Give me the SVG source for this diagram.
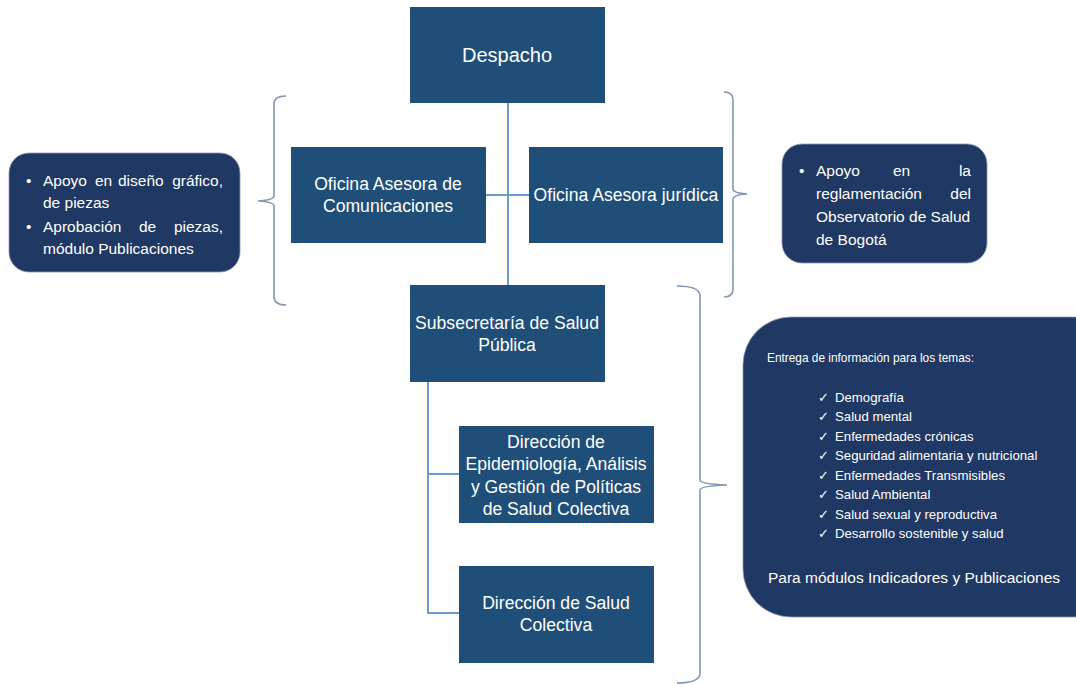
<svg xmlns="http://www.w3.org/2000/svg" width="1076" height="684" viewBox="0 0 1076 684">
<style>
.node{fill:#1F4E79;}
.call{fill:#1F3864;stroke:#8a9ab3;stroke-width:0.8;}
.t{font-family:"Liberation Sans",Arial,sans-serif;fill:#ffffff;}
.n18{font-size:17.6px;text-anchor:middle;}
.c15{font-size:15.5px;}
.c13{font-size:13.2px;}
.conn{stroke:#6C9BD2;stroke-width:2;fill:none;}
.brace{stroke:#8496B0;stroke-width:1.6;fill:none;}
</style>
<rect width="1076" height="684" fill="#ffffff"/>
<g id="connectors">
<line class="conn" x1="508" y1="103" x2="508" y2="285"/>
<line class="conn" x1="486" y1="195" x2="529" y2="195"/>
<polyline class="conn" points="428,382 428,613 459,613"/>
<line class="conn" x1="428" y1="474" x2="459" y2="474"/>
</g>
<g id="braces">
<path class="brace" d="M286,96 Q274,96 274,104 L274,196 Q274,200 258,201 Q274,202 274,206 L274,297 Q274,305 286,305"/>
<path class="brace" d="M724,92 Q733,92 733,100 L733,189 Q733,193 747,194 Q733,195 733,199 L733,289 Q733,297 724,297"/>
<path class="brace" d="M677,286 Q700,286 700,296 L700,480 Q700,484 727,485 Q700,486 700,490 L700,673 Q700,683 677,683"/>
</g>
<g id="despacho">
<rect class="node" x="410" y="7" width="195" height="96"/>
<text class="t" x="507" y="62" font-size="20" text-anchor="middle">Despacho</text>
</g>
<g id="oficina-comunicaciones">
<rect class="node" x="291" y="147" width="195" height="96"/>
<text class="t n18" x="388" y="190">Oficina Asesora de</text>
<text class="t n18" x="388" y="212">Comunicaciones</text>
</g>
<g id="oficina-juridica">
<rect class="node" x="529" y="147" width="194" height="96"/>
<text class="t n18" x="626" y="201">Oficina Asesora jurídica</text>
</g>
<g id="subsecretaria">
<rect class="node" x="410" y="285" width="195" height="97"/>
<text class="t n18" x="507" y="329">Subsecretaría de Salud</text>
<text class="t n18" x="507" y="351">Pública</text>
</g>
<g id="direccion-epidemiologia">
<rect class="node" x="459" y="426" width="195" height="97"/>
<text class="t n18" x="556" y="448">Dirección de</text>
<text class="t n18" x="556" y="470">Epidemiología, Análisis</text>
<text class="t n18" x="556" y="493">y Gestión de Políticas</text>
<text class="t n18" x="556" y="515">de Salud Colectiva</text>
</g>
<g id="direccion-salud-colectiva">
<rect class="node" x="459" y="566" width="195" height="97"/>
<text class="t n18" x="556" y="609">Dirección de Salud</text>
<text class="t n18" x="556" y="631">Colectiva</text>
</g>
<g id="callout-comunicaciones">
<rect class="call" x="9" y="153" width="231" height="119" rx="20"/>
<text class="t c15" x="26" y="186">•</text>
<text class="t c15" y="186"><tspan x="43">Apoyo</tspan><tspan x="95">en</tspan><tspan x="118">diseño</tspan><tspan x="223" text-anchor="end">gráfico,</tspan></text>
<text class="t c15" x="43" y="208">de piezas</text>
<text class="t c15" x="26" y="232">•</text>
<text class="t c15" y="232"><tspan x="43">Aprobación</tspan><tspan x="139">de</tspan><tspan x="223" text-anchor="end">piezas,</tspan></text>
<text class="t c15" x="43" y="254">módulo Publicaciones</text>
</g>
<g id="callout-juridica">
<rect class="call" x="782" y="144" width="205" height="119" rx="20"/>
<text class="t c15" x="799" y="176">•</text>
<text class="t c15" y="176"><tspan x="816">Apoyo</tspan><tspan x="893">en</tspan><tspan x="971" text-anchor="end">la</tspan></text>
<text class="t c15" y="199"><tspan x="816">reglamentación</tspan><tspan x="971" text-anchor="end">del</tspan></text>
<text class="t c15" x="816" y="222">Observatorio de Salud</text>
<text class="t c15" x="816" y="245">de Bogotá</text>
</g>
<g id="callout-subsecretaria">
<rect class="call" x="743" y="317" width="380" height="300" rx="48"/>
<text class="t" x="767" y="362" font-size="13" textLength="207" lengthAdjust="spacingAndGlyphs">Entrega de información para los temas:</text>
<text class="t c13" y="402"><tspan x="818">✓</tspan><tspan x="835">Demografía</tspan></text>
<text class="t c13" y="421"><tspan x="818">✓</tspan><tspan x="835">Salud mental</tspan></text>
<text class="t c13" y="441"><tspan x="818">✓</tspan><tspan x="835">Enfermedades crónicas</tspan></text>
<text class="t c13" y="460"><tspan x="818">✓</tspan><tspan x="835">Seguridad alimentaria y nutricional</tspan></text>
<text class="t c13" y="480"><tspan x="818">✓</tspan><tspan x="835">Enfermedades Transmisibles</tspan></text>
<text class="t c13" y="499"><tspan x="818">✓</tspan><tspan x="835">Salud Ambiental</tspan></text>
<text class="t c13" y="519"><tspan x="818">✓</tspan><tspan x="835">Salud sexual y reproductiva</tspan></text>
<text class="t c13" y="538"><tspan x="818">✓</tspan><tspan x="835">Desarrollo sostenible y salud</tspan></text>
<text class="t c15" x="768" y="583">Para módulos Indicadores y Publicaciones</text>
</g>
</svg>
